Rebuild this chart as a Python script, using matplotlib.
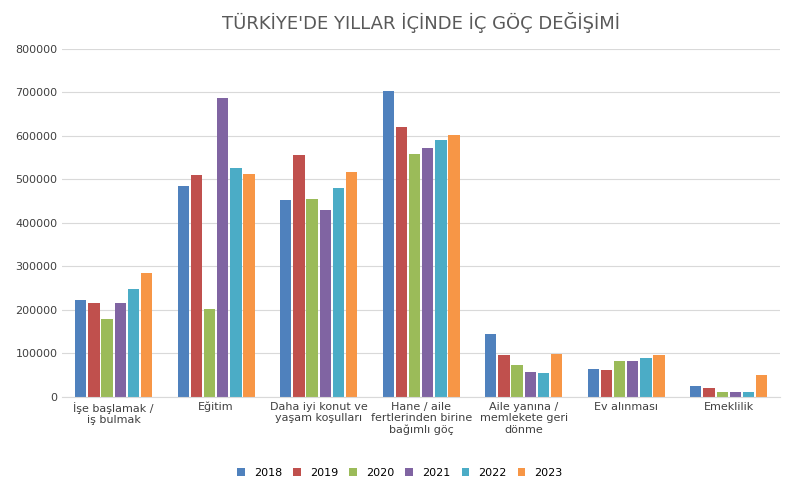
import numpy as np
import matplotlib.pyplot as plt

categories = ["İşe başlamak /\niş bulmak", "Eğitim", "Daha iyi konut ve\nyaşam koşulları",
              "Hane / aile\nfertlerinden birine\nbağımlı göç", "Aile yanına /\nmemlekete geri\ndönme",
              "Ev alınması", "Emeklilik"]
years = ["2018", "2019", "2020", "2021", "2022", "2023"]
v2018 = [223000, 485000, 453000, 703000, 145000, 64000, 25000]
v2019 = [216000, 510000, 556000, 621000, 96000, 62000, 20000]
v2020 = [179000, 202000, 455000, 558000, 73000, 83000, 11000]
v2021 = [216000, 687000, 430000, 572000, 57000, 83000, 12000]
v2022 = [248000, 526000, 480000, 591000, 55000, 90000, 10000]
v2023 = [285000, 512000, 517000, 602000, 99000, 96000, 50000]
series = [v2018, v2019, v2020, v2021, v2022, v2023]
colors = ["#4F81BD", "#C0504D", "#9BBB59", "#8064A2", "#4BACC6", "#F79646"]

fig = plt.figure(figsize=(8, 4.88), dpi=100)
ax = fig.add_axes([0.078, 0.187, 0.897, 0.713])
x = np.arange(len(categories))
w = 0.125
gap = 0.02
for i, (s, c, y) in enumerate(zip(series, colors, years)):
    ax.bar(x + (i - 2.5) * (w + gap / 6), s, width=w - 0.015, color=c, label=y)

ax.set_xlim(-0.5, len(categories) - 0.5)
ax.set_ylim(0, 800000)
ax.set_yticks(range(0, 800001, 100000))
ax.tick_params(axis='both', length=0, labelsize=8, colors='#404040')
ax.set_xticks(x)
ax.set_xticklabels(categories, fontsize=8, color='#404040')
ax.grid(axis='y', color='#D9D9D9', lw=0.8)
ax.set_axisbelow(True)
for sp in ['top', 'right', 'left']:
    ax.spines[sp].set_visible(False)
ax.spines['bottom'].set_color('#D9D9D9')
ax.set_title("TÜRKİYE'DE YILLAR İÇİNDE İÇ GÖÇ DEĞİŞİMİ", fontsize=13, color='#595959', pad=14)
fig.legend(loc='lower center', ncol=6, frameon=False, fontsize=8, handlelength=0.7,
           handleheight=0.7, columnspacing=1.0, bbox_to_anchor=(0.5, 0.0))
fig.savefig("out.png", dpi=100)
